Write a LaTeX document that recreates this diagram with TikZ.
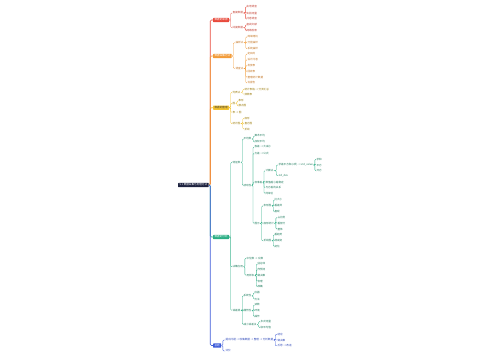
\documentclass[tikz,border=0pt]{standalone}
\usepackage{fontspec}
\newfontfamily\cjk{Noto Sans CJK SC}
\definecolor{cred}{HTML}{E84A3C}
\definecolor{corange}{HTML}{F29B38}
\definecolor{cyellow}{HTML}{F2C230}
\definecolor{cgreen}{HTML}{2BAE84}
\definecolor{cblue}{HTML}{3D5BD9}
\definecolor{croot}{HTML}{1E2340}
\definecolor{tred}{HTML}{C0392B}
\definecolor{torange}{HTML}{C27321}
\definecolor{tyellow}{HTML}{9A7A0A}
\definecolor{tgreen}{HTML}{1D7A5C}
\definecolor{tblue}{HTML}{2D47B8}
\begin{document}
\begin{tikzpicture}[x=1pt,y=-1pt,
  base/.style={inner sep=0.3pt, anchor=west, font=\cjk\fontsize{2.6}{2.8}\selectfont},
  mbox/.style={base, inner xsep=1.4pt, inner ysep=0.9pt, fill=#1, text=white, rounded corners=0.4pt},
  txt/.style={base, text=#1},
  sub/.style={draw=#1, line width=0.35pt, rounded corners=1pt},
  mainln/.style={draw=#1, line width=0.6pt, rounded corners=1.2pt}]
\useasboundingbox (0,0) rectangle (500,360);

% root
\node[mbox=croot] (root) at (178,185) {5.1 数据采集与处理方法};

% main branches
\node[mbox=cred] (R) at (213,20) {数据的来源};
\node[mbox=corange] (O) at (213,56) {数据采集方法};
\node[mbox=cyellow, text=black!75] (Y) at (213,107.7) {数据的整理};
\node[mbox=cgreen] (G) at (213,237) {数据的分析};
\node[mbox=cblue] (B) at (213,345.5) {总结};

\draw[mainln=cyellow] (root.east) -- ++(1.5,0) |- (Y.west);
\draw[mainln=cred] (root.east) -- ++(1.5,0) |- (R.west);
\draw[mainln=corange] (root.east) -- ++(1.5,0) |- (O.west);
\draw[mainln=cgreen] (root.east) -- ++(1.5,0) |- (G.west);
\draw[mainln=cblue] (root.east) -- ++(1.5,0) |- (B.west);

% ---------- red ----------
\begin{scope}[every node/.style={txt=tred}]
\node (R1) at (232,13) {直接数据};
\node (R1a) at (246,6.7) {实地调查};
\node (R1b) at (246,13) {实验测量};
\node (R1c) at (246,19) {问卷调查};
\node (R2) at (232,27.7) {间接数据};
\node (R2a) at (246,24.7) {查阅文献};
\node (R2b) at (246,30.7) {网络检索};
\end{scope}
\foreach \c in {R1,R2} \draw[sub=cred] (R.east) -- ++(1.5,0) |- (\c.west);
\foreach \c in {R1a,R1b,R1c} \draw[sub=cred] (R1.east) -- ++(2,0) |- (\c.west);
\foreach \c in {R2a,R2b} \draw[sub=cred] (R2.east) -- ++(2,0) |- (\c.west);

% ---------- orange ----------
\begin{scope}[every node/.style={txt=torange}]
\node (O1) at (235,42.7) {抽样法};
\node (O1a) at (247,36.7) {简单随机};
\node (O1b) at (247,42.7) {分层抽样};
\node (O1c) at (247,48.7) {系统抽样};
\node (O2) at (235,68.5) {调查法};
\node (O2a) at (247,54) {定目的};
\node (O2b) at (247,59.8) {设计问卷};
\node (O2c) at (247,65.6) {发放表};
\node (O2d) at (247,71.4) {回收表};
\node (O2e) at (247,77.2) {整理统计数据};
\node (O2f) at (247,83) {写报告};
\end{scope}
\foreach \c in {O1,O2} \draw[sub=corange] (O.east) -- ++(1.5,0) |- (\c.west);
\foreach \c in {O1a,O1b,O1c} \draw[sub=corange] (O1.east) -- ++(2,0) |- (\c.west);
\foreach \c in {O2a,O2b,O2c,O2d,O2e,O2f} \draw[sub=corange] (O2.east) -- ++(2,0) |- (\c.west);

% ---------- yellow ----------
\begin{scope}[every node/.style={txt=tyellow}]
\node (Y1) at (232,92.3) {列表法};
\node (Y1a) at (244,89.3) {统计表格 → 分类汇总};
\node (Y1b) at (244,94.3) {频数表};
\node (Y2) at (232,103.3) {图};
\node (Y2a) at (238,100.7) {象形};
\node (Y2b) at (238,106) {散点图};
\node (Y3) at (232,112.3) {表 → 图};
\node (Y4) at (232,123.6) {统计图};
\node (Y4a) at (244,118.3) {扇形};
\node (Y4b) at (244,123.6) {直方图};
\node (Y4c) at (244,129) {折线};
\end{scope}
\foreach \c in {Y1,Y2,Y3,Y4} \draw[sub=cyellow] (Y.east) -- ++(1.5,0) |- (\c.west);
\foreach \c in {Y1a,Y1b} \draw[sub=cyellow] (Y1.east) -- ++(2,0) |- (\c.west);
\foreach \c in {Y2a,Y2b} \draw[sub=cyellow] (Y2.east) -- ++(1.5,0) |- (\c.west);
\foreach \c in {Y4a,Y4b,Y4c} \draw[sub=cyellow] (Y4.east) -- ++(2,0) |- (\c.west);

% ---------- green ----------
\begin{scope}[every node/.style={txt=tgreen}]
\node (G1) at (232,162.3) {特征数};
\node (G1a) at (243,139) {平均数};
\node (G1a1) at (254,136) {算术平均};
\node (G1a2) at (254,142) {加权平均};
\node (G1c) at (243,185.4) {波动性};
\node (G1c1) at (254,147) {极差 → 大减小};
\node (G1c2) at (254,153.3) {方差 → 公式};
\node (N) at (254,182.3) {标准差};
\node (N1) at (265,170.7) {计算法};
\node (N1a) at (278,165) {求差平方和(n项) → std\_value};
\node (N1a1) at (316,159.3) {求和};
\node (N1a2) at (316,165) {平方};
\node (N1a3) at (316,170.7) {开方};
\node (N1b) at (278,175.7) {std\_dev};
\node (N2) at (265,182.3) {数值越小越稳定};
\node (N3) at (265,187.7) {与方差的关系};
\node (N4) at (265,193.3) {同单位};
\node (M) at (254,223.3) {图示};
\node (M1) at (263,205.8) {条形图};
\node (M1a) at (274,200) {比大小};
\node (M1b) at (274,205.8) {看差异};
\node (M1c) at (274,211.6) {直观};
\node (M2) at (263,223.3) {扇形统计};
\node (M2a) at (277,217.5) {占比例};
\node (M2b) at (277,223.3) {看部分};
\node (M2c) at (277,229.1) {整体};
\node (M3) at (263,240.7) {折线图};
\node (M3a) at (274,234.9) {看趋势};
\node (M3b) at (274,240.7) {增减变};
\node (M3c) at (274,246.5) {变化};
\node (G2) at (232,266.7) {决策应用};
\node (G2a) at (246,258.3) {中位数 → 众数};
\node (G2b) at (246,275.3) {用样本};
\node (G2b1) at (257,264) {估总体};
\node (G2b2) at (257,269.7) {作预测};
\node (G2b3) at (257,275.3) {做决策};
\node (G2b4) at (257,281) {合理};
\node (G2b5) at (257,286.7) {准确};
\node (G3) at (232,310.2) {误差源};
\node (G3a) at (243,295.9) {系统性};
\node (G3a1) at (254,292.8) {仪器};
\node (G3a2) at (254,299) {方法};
\node (G3b) at (243,310.7) {偶然性};
\node (G3b1) at (254,305) {读数};
\node (G3b2) at (254,310.7) {环境};
\node (G3b3) at (254,316.4) {操作};
\node (G3c) at (243,324.5) {减小误差法};
\node (G3c1) at (260,321.6) {多次测量};
\node (G3c2) at (260,327.4) {取平均值};
\end{scope}
\foreach \c in {G1,G2,G3} \draw[sub=cgreen] (G.east) -- ++(1.5,0) |- (\c.west);
\foreach \c in {G1a,G1c} \draw[sub=cgreen] (G1.east) -- ++(1.5,0) |- (\c.west);
\foreach \c in {G1a1,G1a2} \draw[sub=cgreen] (G1a.east) -- ++(1.5,0) |- (\c.west);
\foreach \c in {G1c1,G1c2,N,M} \draw[sub=cgreen] (G1c.east) -- ++(1.2,0) |- (\c.west);
\foreach \c in {N1,N2,N3,N4} \draw[sub=cgreen] (N.east) -- ++(1.2,0) |- (\c.west);
\foreach \c in {N1a,N1b} \draw[sub=cgreen] (N1.east) -- ++(2.5,0) |- (\c.west);
\foreach \c in {N1a1,N1a2,N1a3} \draw[sub=cgreen] (N1a.east) -- ++(1.5,0) |- (\c.west);
\foreach \c in {M1,M2,M3} \draw[sub=cgreen] (M.east) -- ++(1.5,0) |- (\c.west);
\foreach \c in {M1a,M1b,M1c} \draw[sub=cgreen] (M1.east) -- ++(1.5,0) |- (\c.west);
\foreach \c in {M2a,M2b,M2c} \draw[sub=cgreen] (M2.east) -- ++(1.5,0) |- (\c.west);
\foreach \c in {M3a,M3b,M3c} \draw[sub=cgreen] (M3.east) -- ++(1.5,0) |- (\c.west);
\foreach \c in {G2a,G2b} \draw[sub=cgreen] (G2.east) -- ++(1.5,0) |- (\c.west);
\foreach \c in {G2b1,G2b2,G2b3,G2b4,G2b5} \draw[sub=cgreen] (G2b.east) -- ++(1.5,0) |- (\c.west);
\foreach \c in {G3a,G3b,G3c} \draw[sub=cgreen] (G3.east) -- ++(1.5,0) |- (\c.west);
\foreach \c in {G3a1,G3a2} \draw[sub=cgreen] (G3a.east) -- ++(1.5,0) |- (\c.west);
\foreach \c in {G3b1,G3b2,G3b3} \draw[sub=cgreen] (G3b.east) -- ++(1.5,0) |- (\c.west);
\foreach \c in {G3c1,G3c2} \draw[sub=cgreen] (G3c.east) -- ++(1.5,0) |- (\c.west);

% ---------- blue ----------
\begin{scope}[every node/.style={txt=tblue}]
\node (B1) at (225,340) {提出问题 → 收集数据 → 整理 → 分析数据};
\node (B1a) at (277,334.3) {结论};
\node (B1b) at (277,340) {做决策};
\node (B1c) at (277,345.7) {反思 → 改进};
\node (B2) at (225,351) {评价};
\end{scope}
\foreach \c in {B1,B2} \draw[sub=cblue] (B.east) -- ++(1.5,0) |- (\c.west);
\foreach \c in {B1a,B1b,B1c} \draw[sub=cblue] (B1.east) -- ++(1.5,0) |- (\c.west);
\end{tikzpicture}
\end{document}
